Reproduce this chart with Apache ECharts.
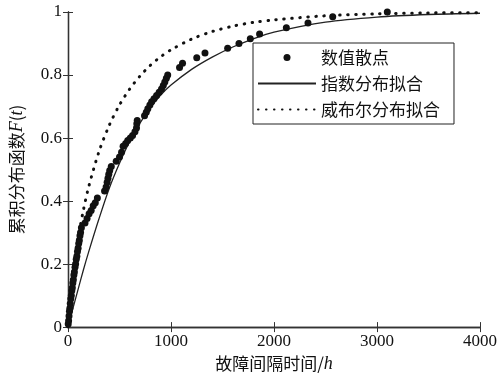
<!DOCTYPE html>
<html><head><meta charset="utf-8">
<script src="https://cdn.jsdelivr.net/npm/echarts@6/dist/echarts.min.js"></script>
<style>html,body{margin:0;padding:0;background:#fff}#c{width:500px;height:378px}</style>
</head><body><div id="c"></div>
<script>
// Scatter (empirical CDF) points: time t (h), F(t)
const scatterT = [2,6,10,14,18,22,27,32,37,42,47,52,57,62,68,74,80,86,92,98,104,110,116,122,130,165,185,205,225,245,265,285,355,370,380,388,396,405,420,468,500,520,535,560,580,605,627,650,665,668,672,743,760,775,795,812,835,860,885,908,925,940,955,968,1083,1112,1250,1330,1550,1660,1770,1860,2120,2330,2570,3100];
const scatterF = [0.01,0.02,0.035,0.05,0.06,0.075,0.09,0.1,0.115,0.125,0.14,0.15,0.165,0.175,0.19,0.2,0.215,0.225,0.24,0.25,0.265,0.275,0.29,0.3,0.315,0.33,0.345,0.36,0.37,0.385,0.395,0.41,0.432,0.445,0.46,0.472,0.485,0.497,0.51,0.526,0.54,0.555,0.574,0.583,0.592,0.6,0.608,0.62,0.632,0.645,0.656,0.671,0.682,0.693,0.705,0.715,0.725,0.735,0.745,0.756,0.767,0.778,0.79,0.8,0.824,0.837,0.855,0.87,0.885,0.9,0.915,0.93,0.95,0.965,0.985,1.0];
// Exponential fit curve samples
const expT = [0,50,100,150,200,300,400,500,600,700,800,900,1000,1200,1400,1600,1800,2000,2500,3000,3500,4000];
const expF = [0,0.062,0.122,0.182,0.238,0.343,0.44,0.52,0.59,0.648,0.696,0.736,0.768,0.818,0.857,0.889,0.915,0.936,0.968,0.984,0.992,0.996];
// Weibull fit curve samples
const wblT = [0,10,25,50,100,150,200,300,400,500,600,700,800,900,1000,1200,1400,1600,1800,2000,2500,3000,3500,4000];
const wblF = [0,0.052,0.105,0.176,0.286,0.372,0.444,0.556,0.640,0.705,0.756,0.797,0.831,0.858,0.880,0.914,0.938,0.955,0.967,0.975,0.988,0.994,0.997,0.998];
const xTicks = [0,1000,2000,3000,4000];
const yTicks = [0,0.2,0.4,0.6,0.8,1];
const seriesNames = ['数值散点','指数分布拟合','威布尔分布拟合'];

const zip = (a,b) => a.map((v,i)=>[v,b[i]]);
const serif = 'Liberation Serif';
const cjk = 'Noto Sans CJK SC';
const axisColor = '#333';

const chart = echarts.init(document.getElementById('c'), null, {renderer:'canvas'});
chart.setOption({
  animation:false,
  backgroundColor:'#fff',
  grid:{left:68,right:19,top:12,bottom:47,show:false},
  legend:{
    orient:'vertical', left:253, top:43,
    data:[
      {name:seriesNames[0]},
      {name:seriesNames[1], itemStyle:{color:'transparent',borderWidth:0,opacity:0}},
      {name:seriesNames[2], itemStyle:{color:'transparent',borderWidth:0,opacity:0}}
    ],
    itemWidth:58, itemHeight:7, itemGap:9,
    padding:[6,14,6,4],
    backgroundColor:'#fff', borderColor:'#222', borderWidth:1,
    textStyle:{fontFamily:cjk, fontSize:17, color:'#111', lineHeight:17},
  },
  xAxis:[{
    type:'value', min:xTicks[0], max:xTicks[xTicks.length-1], interval:1000,
    position:'bottom',
    name:'{a|故障间隔时间/}{b|h}', nameLocation:'middle', nameGap:19,
    nameTextStyle:{rich:{a:{fontFamily:cjk,fontSize:17,color:'#111'},b:{fontFamily:serif,fontSize:18,fontStyle:'italic',color:'#111'}}},
    axisLine:{lineStyle:{color:axisColor,width:1.3}},
    axisTick:{inside:true,length:5,lineStyle:{color:axisColor}},
    axisLabel:{fontFamily:serif,fontSize:17,color:'#111',margin:6,formatter:v=>String(v)},
    splitLine:{show:false}
  },{
    type:'value', min:0, max:4000, interval:1000, position:'top',
    axisLine:{lineStyle:{color:axisColor,width:1.3}},
    axisTick:{inside:true,length:5,lineStyle:{color:axisColor}},
    axisLabel:{show:false}, splitLine:{show:false}
  }],
  yAxis:[{
    type:'value', min:yTicks[0], max:yTicks[yTicks.length-1], interval:0.2,
    position:'left',
    name:'{a|累积分布函数}{b|F}{a|(}{b|t}{a|)}', nameLocation:'middle', nameGap:42, nameRotate:90,
    nameTextStyle:{rich:{a:{fontFamily:cjk,fontSize:17,color:'#111'},b:{fontFamily:serif,fontSize:18,fontStyle:'italic',color:'#111'}}},
    axisLine:{lineStyle:{color:axisColor,width:1.3}},
    axisTick:{inside:true,length:5,lineStyle:{color:axisColor}},
    axisLabel:{fontFamily:serif,fontSize:17,color:'#111',margin:6},
    splitLine:{show:false}
  },{
    type:'value', min:0, max:1, interval:0.2, position:'right',
    axisLine:{lineStyle:{color:axisColor,width:1.3}},
    axisTick:{inside:true,length:5,lineStyle:{color:axisColor}},
    axisLabel:{show:false}, splitLine:{show:false}
  }],
  series:[{
    name:seriesNames[0], type:'scatter', data:zip(scatterT,scatterF),
    symbol:'circle', symbolSize:7, itemStyle:{color:'#111',opacity:1}, z:3
  },{
    name:seriesNames[1], type:'line', data:zip(expT,expF), smooth:0.3,
    showSymbol:false, symbol:'none', lineStyle:{color:'#222',width:1.3}, itemStyle:{color:'#222'}
  },{
    name:seriesNames[2], type:'line', data:zip(wblT,wblF), smooth:0.3,
    showSymbol:false, symbol:'none', lineStyle:{color:'#111',width:3,type:[0.5,7.5],cap:'round'}, itemStyle:{color:'#111'}
  }]
});
</script></body></html>
